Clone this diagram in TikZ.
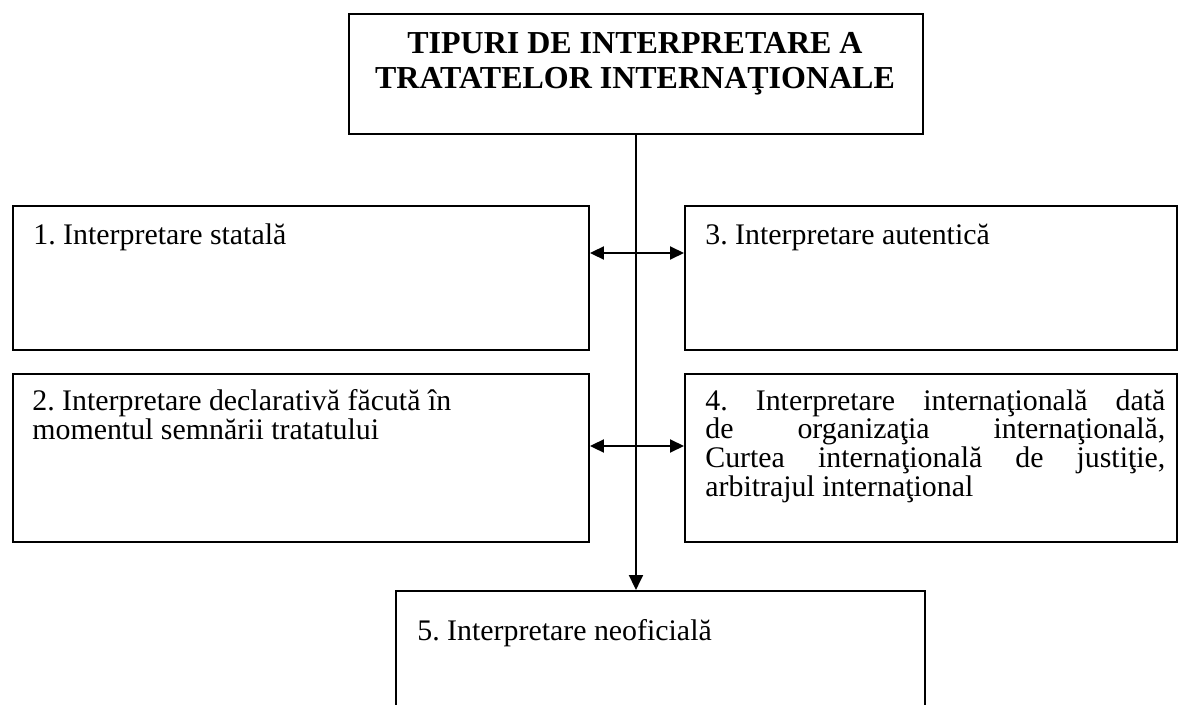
\documentclass[tikz,border=0pt]{standalone}
\usepackage{fontspec}
\setmainfont{Liberation Serif}
\usetikzlibrary{arrows.meta, positioning}

\newcommand{\bodyfont}{\fontsize{17}{16.4}\selectfont}
\newcommand{\headfont}{\fontsize{18.2}{20}\selectfont\bfseries}

\tikzset{
    box/.style={draw, line width=1.1pt, anchor=north west, inner sep=0pt},
    boxtext/.style={inner sep=0pt, font=\bodyfont},
    link/.style={line width=1.1pt, {Triangle[length=0.28cm, width=0.26cm]}-{Triangle[length=0.28cm, width=0.26cm]}},
    trunk/.style={line width=1.1pt, -{Triangle[length=0.3cm, width=0.28cm]}}
}

\begin{document}
\frenchspacing
\begin{tikzpicture}
    \useasboundingbox (0,0) rectangle (23.62,14.08);

    % Title box
    \node[box, minimum width=11.48cm, minimum height=2.4cm] (title) at (6.96,13.82) {};
    \node[inner sep=0pt, font=\headfont, align=center, anchor=north] (titletext) at (12.7,13.44)
        {TIPURI DE INTERPRETARE A\\TRATATELOR INTERNAŢIONALE};

    % Boxes
    \node[box, minimum width=11.52cm, minimum height=2.88cm] (stat) at (0.24,9.98) {};
    \node[box, minimum width=9.84cm, minimum height=2.88cm] (aut) at (13.68,9.98) {};
    \node[box, minimum width=11.52cm, minimum height=3.36cm] (decl) at (0.24,6.62) {};
    \node[box, minimum width=9.84cm, minimum height=3.36cm] (intl) at (13.68,6.62) {};
    \node[box, minimum width=10.58cm, minimum height=2.36cm] (neof) at (7.9,2.28) {};

    % Texts
    \node[boxtext, anchor=base west] (stattext) at (0.66,9.18) {1. Interpretare statală};
    \node[boxtext, anchor=base west] (auttext) at (14.1,9.18) {3. Interpretare autentică};
    \node[boxtext, anchor=north west, align=left] (decltext) at (0.64,6.3)
        {2. Interpretare declarativă făcută în\\momentul semnării tratatului};
    \node[boxtext, anchor=north west, text width=9.2cm, align=justify] (intltext) at (14.1,6.3)
        {4. Interpretare internaţională dată\linebreak de organizaţia internaţională,\linebreak Curtea internaţională de justiţie,\linebreak arbitrajul internaţional};
    \node[boxtext, anchor=base west] (neoftext) at (8.34,1.28) {5. Interpretare neoficială};

    % Connectors
    \coordinate (row1) at (12.72,9.02);
    \coordinate (row2) at (12.72,5.16);
    \draw[trunk] (title.south) -- (title.south |- neof.north);
    \draw[link] (stat.east |- row1) -- (aut.west |- row1);
    \draw[link] (decl.east |- row2) -- (intl.west |- row2);
\end{tikzpicture}
\end{document}
